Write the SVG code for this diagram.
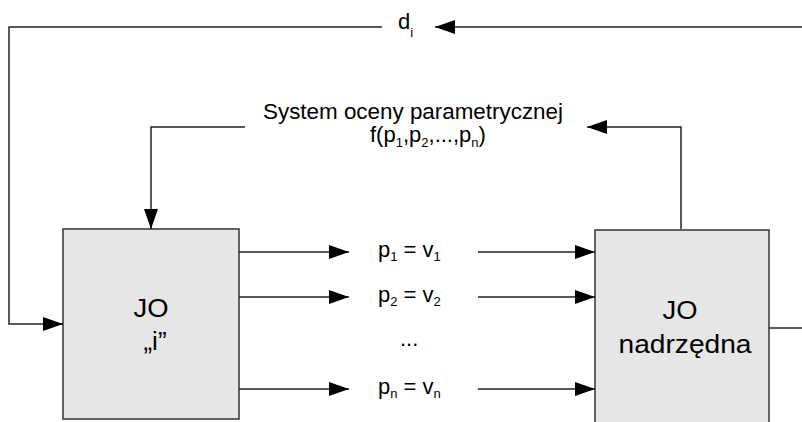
<svg xmlns="http://www.w3.org/2000/svg" width="802" height="422" viewBox="0 0 802 422">
<style>
.ln{fill:none;stroke:#222;stroke-width:1.5}
.box{fill:#e6e6e6;stroke:#333;stroke-width:1.5}
.t{font-family:"Liberation Sans",Arial,sans-serif;font-size:22px;fill:#000}
.big{font-family:"Liberation Sans",Arial,sans-serif;font-size:26px;fill:#000}
</style>
<defs>
<marker id="ah" markerUnits="userSpaceOnUse" markerWidth="21" markerHeight="15" refX="20" refY="7" orient="auto">
<path d="M0,0 L20,7 L0,14 z" fill="#000"/>
</marker>
</defs>
<rect width="802" height="422" fill="#fff"/>
<g id="jo-i">
<rect class="box" x="63" y="229" width="176" height="190"/>
<text class="big" x="151" y="317" text-anchor="middle" textLength="35" lengthAdjust="spacingAndGlyphs">JO</text>
<text class="big" x="155" y="350" text-anchor="middle">„i”</text>
</g>
<g id="jo-nadrzedna">
<rect class="box" x="595" y="230" width="174" height="200"/>
<text class="big" x="680" y="319" text-anchor="middle" textLength="35" lengthAdjust="spacingAndGlyphs">JO</text>
<text class="big" x="685" y="353" text-anchor="middle" textLength="133" lengthAdjust="spacingAndGlyphs">nadrzędna</text>
</g>
<g id="system">
<text class="t" x="263" y="119" textLength="300" lengthAdjust="spacingAndGlyphs">System oceny parametrycznej</text>
<text class="t" x="370" y="142" font-size="21">f(p<tspan font-size="13" dy="5">1</tspan><tspan dy="-5">,p</tspan><tspan font-size="13" dy="5">2</tspan><tspan dy="-5">,...,p</tspan><tspan font-size="13" dy="5">n</tspan><tspan dy="-5">)</tspan></text>
</g>
<g id="labels">
<text class="t" x="398" y="29">d<tspan font-size="13" dy="8">i</tspan></text>
<text class="t" x="378" y="257">p<tspan font-size="13" dy="4">1</tspan><tspan dy="-4"> = v</tspan><tspan font-size="13" dy="4">1</tspan></text>
<text class="t" x="378" y="302">p<tspan font-size="13" dy="4">2</tspan><tspan dy="-4"> = v</tspan><tspan font-size="13" dy="4">2</tspan></text>
<text class="t" x="400" y="346">...</text>
<text class="t" x="378" y="394">p<tspan font-size="13" dy="4">n</tspan><tspan dy="-4"> = v</tspan><tspan font-size="13" dy="4">n</tspan></text>
</g>
<g id="connectors">
<path class="ln" d="M802,27 L435,27" marker-end="url(#ah)"/>
<path class="ln" d="M382,27 L9,27 L9,324 L63,324" marker-end="url(#ah)"/>
<path class="ln" d="M681,229 L681,127 L587,127" marker-end="url(#ah)"/>
<path class="ln" d="M245,127 L151,127 L151,229" marker-end="url(#ah)"/>
<path class="ln" d="M239,252 L349,252" marker-end="url(#ah)"/>
<path class="ln" d="M239,297 L349,297" marker-end="url(#ah)"/>
<path class="ln" d="M239,389 L349,389" marker-end="url(#ah)"/>
<path class="ln" d="M478,252 L595,252" marker-end="url(#ah)"/>
<path class="ln" d="M478,297 L595,297" marker-end="url(#ah)"/>
<path class="ln" d="M478,389 L595,389" marker-end="url(#ah)"/>
<path class="ln" d="M769,328 L802,328"/>
</g>
</svg>
